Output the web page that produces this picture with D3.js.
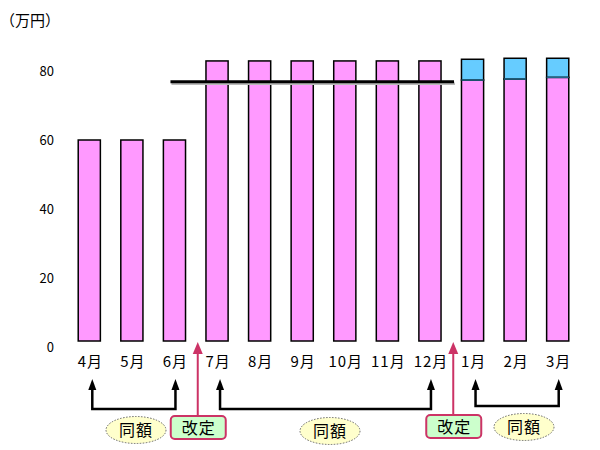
<!DOCTYPE html>
<html><head><meta charset="utf-8">
<script src="https://cdn.jsdelivr.net/npm/d3@7/dist/d3.min.js"></script>
<style>body{margin:0;background:#fff}svg{display:block}text{font-family:"Noto Sans CJK JP","Noto Sans",sans-serif}</style>
</head><body>
<script>
const months = ['4月','5月','6月','7月','8月','9月','10月','11月','12月','1月','2月','3月'];
const baseValues = [60,60,60,83.6,83.6,83.6,83.6,83.6,83.6,77.9,78.2,78.7];
const extraValues = [0,0,0,0,0,0,0,0,0,6.2,6.2,5.7];
const yTicks = [0,20,40,60,80];
const refLineValue = 77.4;
const sameLabel = '同額';
const reviseLabel = '改定';
const unitLabel = '（万円）';
const sameGroups = [['4月','6月'],['7月','12月'],['1月','3月']];
const revisions = [['6月','7月'],['12月','1月']];

const W=600,H=450;
const svg=d3.select('body').append('svg').attr('width',W).attr('height',H);
const x=d3.scaleBand().domain(months).range([68,579]).paddingInner(0.48).paddingOuter(0.24);
const y=d3.scaleLinear().domain([0,80]).range([341,73]);
const yLab=d3.scaleLinear().domain([0,80]).range([347,71]);
const cx=m=>x(m)+x.bandwidth()/2;

svg.append('text').attr('x',0).attr('y',26).attr('font-size',15).text(unitLabel);

const yAxis=d3.axisLeft(yLab).tickValues(yTicks).tickSize(0).tickPadding(0);
const ga=svg.append('g').attr('transform','translate(54,0)').call(yAxis);
ga.select('.domain').remove();
ga.selectAll('text').attr('font-size',13).attr('fill','#000').attr('font-family','"Liberation Sans",Arial,sans-serif');

// bars
svg.append('g').selectAll('rect').data(months).join('rect')
  .attr('x',d=>x(d)).attr('width',x.bandwidth())
  .attr('y',(d,i)=>y(baseValues[i])).attr('height',(d,i)=>y(0)-y(baseValues[i]))
  .attr('fill','#ff99ff').attr('stroke','#000').attr('stroke-width',1.5);
svg.append('g').selectAll('rect').data(months.filter((d,i)=>extraValues[i]>0)).join('rect')
  .attr('x',d=>x(d)).attr('width',x.bandwidth())
  .attr('y',d=>{const i=months.indexOf(d);return y(baseValues[i]+extraValues[i]);})
  .attr('height',d=>{const i=months.indexOf(d);return y(baseValues[i])-y(baseValues[i]+extraValues[i]);})
  .attr('fill','#66ccff').attr('stroke','#000').attr('stroke-width',1.5);
svg.append('g').selectAll('line').data(months.filter((d,i)=>extraValues[i]>0)).join('line')
  .attr('x1',d=>x(d)).attr('x2',d=>x(d)+x.bandwidth())
  .attr('y1',d=>y(baseValues[months.indexOf(d)])).attr('y2',d=>y(baseValues[months.indexOf(d)]))
  .attr('stroke','#226688').attr('stroke-width',1.5);

// reference line
const lx1=cx('6月')-4, lx2=x('12月')+x.bandwidth()+13;
svg.append('line').attr('x1',lx1+1).attr('x2',lx2+1).attr('y1',y(refLineValue)+2).attr('y2',y(refLineValue)+2)
  .attr('stroke','#bbb').attr('stroke-width',2.5);
svg.append('line').attr('x1',lx1).attr('x2',lx2).attr('y1',y(refLineValue)).attr('y2',y(refLineValue))
  .attr('stroke','#000').attr('stroke-width',3);

// month labels
svg.append('g').selectAll('text').data(months).join('text')
  .attr('x',d=>cx(d)+1).attr('y',366.5).attr('text-anchor','middle').attr('font-size',15)
  .attr('letter-spacing',1).text(d=>d);

function arrowHead(xc,tip,w,h,col){
  svg.append('path').attr('d',`M${xc-w/2},${tip+h}L${xc},${tip}L${xc+w/2},${tip+h}Z`).attr('fill',col);
}

// same-amount brackets
const botY=[409,409,406];
sameGroups.forEach((g,i)=>{
  const a=cx(g[0])+3,b=cx(g[1])+1;
  svg.append('path').attr('d',`M${a},388V${botY[i]}H${b}V388`).attr('stroke','#000').attr('stroke-width',2.5).attr('fill','none');
  arrowHead(a,379,8,11,'#000');
  arrowHead(b,379,8,11,'#000');
});
const ellCx=[136,330,524], ellCy=[430,431,427];
ellCx.forEach((c,i)=>{
  svg.append('ellipse').attr('cx',c).attr('cy',ellCy[i]).attr('rx',30).attr('ry',13.5)
    .attr('fill','#ffffcc').attr('stroke','#666').attr('stroke-width',1).attr('stroke-dasharray','1.5,1.5');
  svg.append('text').attr('x',c).attr('y',ellCy[i]+6).attr('text-anchor','middle').attr('font-size',16).attr('letter-spacing',1).text(sameLabel);
});

// revisions
const boxTop=[416,415];
revisions.forEach((r,i)=>{
  const m=(cx(r[0])+cx(r[1]))/2+2;
  svg.append('line').attr('x1',m).attr('x2',m).attr('y1',boxTop[i]).attr('y2',352)
    .attr('stroke','#cc3366').attr('stroke-width',2);
  arrowHead(m,342,10,12,'#cc3366');
  svg.append('rect').attr('x',m-27).attr('y',boxTop[i]).attr('width',55).attr('height',23).attr('rx',4)
    .attr('fill','#ccffcc').attr('stroke','#cc3366').attr('stroke-width',2);
  svg.append('text').attr('x',m+1).attr('y',boxTop[i]+17.5).attr('text-anchor','middle').attr('font-size',16).attr('letter-spacing',1).text(reviseLabel);
});
</script>
</body></html>
